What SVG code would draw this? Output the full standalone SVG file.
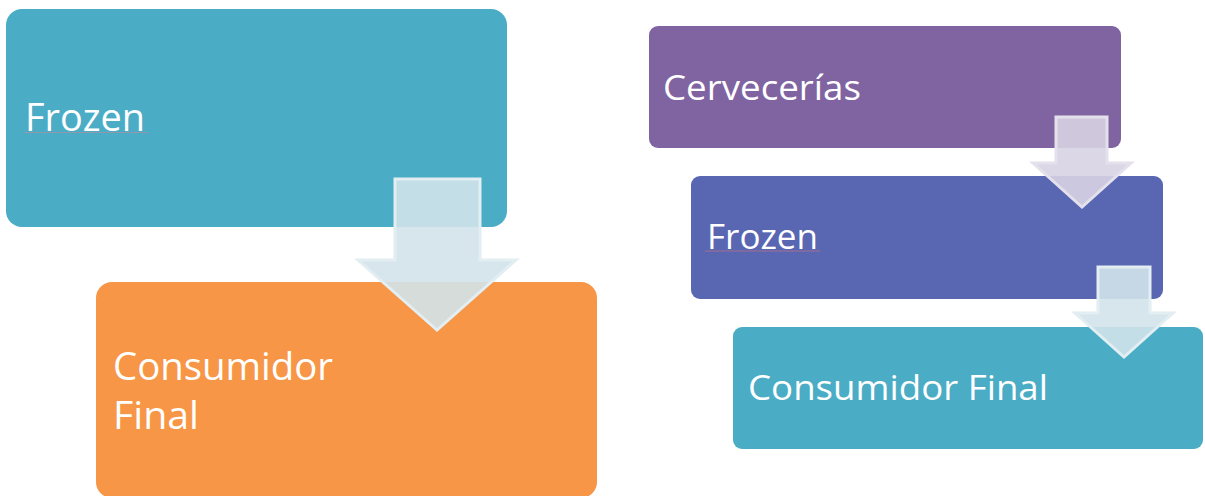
<svg xmlns="http://www.w3.org/2000/svg" width="1205" height="496" viewBox="0 0 1205 496">
  <style>
    .lbl { font-family: "Open Sans", "Noto Sans", "Liberation Sans", sans-serif; fill: #ffffff; }
    .big { font-size: 38px; }
    .mid { font-size: 35px; }
    .arrow-blue { fill: #d2e3ea; fill-opacity: 0.9; stroke: #e2eef2; stroke-width: 3; stroke-linejoin: miter; }
    .arrow-lilac { fill: #d7d3e3; fill-opacity: 0.9; stroke: #e4e1ec; stroke-width: 3; stroke-linejoin: miter; }
    .squiggle { stroke: #c48a9a; stroke-width: 1; opacity: 0.6; }
  </style>
  <rect width="1205" height="496" fill="#ffffff"/>

  <!-- left chain -->
  <g id="node-frozen-left">
    <rect x="6" y="9" width="501" height="218" rx="16" fill="#4bacc6"/>
    <text class="lbl big" x="25" y="131" textLength="120" lengthAdjust="spacingAndGlyphs">Frozen</text>
    <line class="squiggle" x1="24" y1="132.5" x2="148" y2="132.5"/>
  </g>
  <g id="node-consumidor-left">
    <rect x="96" y="282" width="501" height="216" rx="16" fill="#f79646"/>
    <text class="lbl big" x="113" y="380" textLength="220" lengthAdjust="spacingAndGlyphs">Consumidor</text>
    <text class="lbl big" x="113" y="429" textLength="86" lengthAdjust="spacingAndGlyphs">Final</text>
  </g>

  <!-- right chain -->
  <g id="node-cervecerias">
    <rect x="649" y="26" width="472" height="122" rx="9" fill="#8064a2"/>
    <text class="lbl mid" x="663" y="100" textLength="198" lengthAdjust="spacingAndGlyphs">Cervecerías</text>
  </g>
  <g id="node-frozen-right">
    <rect x="691" y="176" width="472" height="123" rx="9" fill="#5966b2"/>
    <text class="lbl mid" x="707" y="249" textLength="111" lengthAdjust="spacingAndGlyphs">Frozen</text>
    <line class="squiggle" x1="705" y1="251" x2="820" y2="251" style="stroke:#d9707a"/>
  </g>
  <g id="node-consumidor-right">
    <rect x="733" y="327" width="470" height="122" rx="9" fill="#4bacc6"/>
    <text class="lbl mid" x="748" y="400" textLength="300" lengthAdjust="spacingAndGlyphs">Consumidor Final</text>
  </g>

  <!-- connectors: block arrows between stages -->
  <g id="connectors">
    <polygon class="arrow-blue" points="395,179 480,179 480,260 516,260 437,330 358,260 395,260"/>
    <polygon class="arrow-lilac" points="1056,117 1107,117 1107,163 1131,163 1082,207 1033,163 1056,163"/>
    <polygon class="arrow-blue" points="1098,267 1150,267 1150,313 1173,313 1124,357 1075,313 1098,313"/>
  </g>
</svg>
